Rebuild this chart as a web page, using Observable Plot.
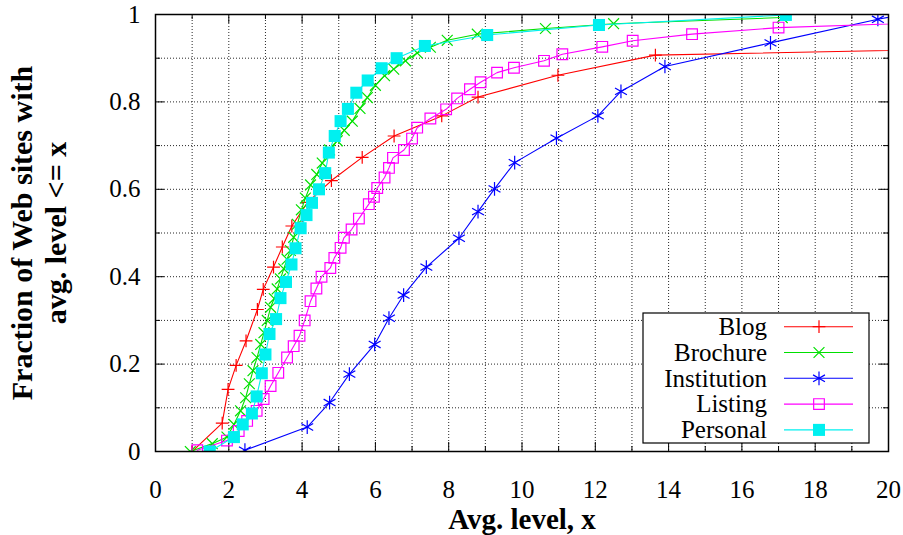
<!DOCTYPE html>
<html><head><meta charset="utf-8">
<script src="https://cdn.jsdelivr.net/npm/d3@7"></script>
<script src="https://cdn.jsdelivr.net/npm/@observablehq/plot@0.6"></script>
<style>body{margin:0;background:#fff}</style>
</head><body><div id="chart"></div>
<script>
const seriesNames = ["Blog", "Brochure", "Institution", "Listing", "Personal"];
const seriesColors = ["#ff0000", "#00e000", "#0000ff", "#ff00ff", "#00f0f0"];
const seriesSymbols = ["plus", "times", "asterisk", "square2", "square"];

const blog = [[1.0,0],[1.82,0.065],[1.98,0.142],[2.2,0.197],[2.47,0.253],[2.78,0.325],[2.94,0.371],[3.22,0.422],[3.46,0.468],[3.72,0.516],[4.15,0.57],[4.8,0.62],[5.64,0.673],[6.51,0.722],[7.81,0.768],[8.8,0.811],[10.98,0.861],[13.64,0.907],[22,0.921]];
const brochure = [[0.95,0.0],[1.55,0.018],[1.95,0.033],[2.14,0.062],[2.32,0.093],[2.46,0.123],[2.56,0.155],[2.66,0.185],[2.77,0.215],[2.87,0.245],[2.96,0.272],[3.05,0.3],[3.14,0.33],[3.24,0.35],[3.32,0.372],[3.41,0.395],[3.5,0.418],[3.59,0.44],[3.68,0.46],[3.77,0.49],[3.87,0.52],[3.98,0.553],[4.09,0.58],[4.23,0.61],[4.4,0.634],[4.55,0.66],[4.75,0.69],[4.96,0.711],[5.15,0.735],[5.37,0.756],[5.58,0.785],[5.78,0.81],[6.0,0.838],[6.25,0.86],[6.5,0.875],[6.82,0.894],[7.14,0.912],[7.5,0.925],[7.96,0.941],[8.78,0.955],[10.64,0.968],[12.5,0.979],[17.1,0.993]];
const institution = [[2.44,0.003],[4.14,0.056],[4.75,0.112],[5.29,0.177],[5.98,0.245],[6.37,0.305],[6.77,0.358],[7.39,0.422],[8.28,0.488],[8.8,0.549],[9.25,0.601],[9.8,0.661],[10.94,0.717],[12.07,0.768],[12.7,0.824],[13.9,0.881],[16.78,0.935],[19.71,0.989],[20.4,1.0]];
const listing = [[1.14,0.003],[1.95,0.025],[2.27,0.047],[2.5,0.07],[2.76,0.093],[2.95,0.12],[3.14,0.15],[3.35,0.18],[3.59,0.215],[3.77,0.241],[3.93,0.265],[4.07,0.3],[4.23,0.344],[4.39,0.373],[4.53,0.4],[4.77,0.42],[4.88,0.443],[5.05,0.466],[5.14,0.489],[5.35,0.508],[5.55,0.533],[5.82,0.566],[5.96,0.583],[6.05,0.603],[6.25,0.627],[6.37,0.649],[6.48,0.672],[6.78,0.69],[7.0,0.716],[7.14,0.741],[7.5,0.762],[7.93,0.783],[8.23,0.808],[8.58,0.829],[8.87,0.845],[9.32,0.867],[9.78,0.878],[10.6,0.894],[11.1,0.909],[12.19,0.926],[13.02,0.94],[14.64,0.955],[17.0,0.97],[22,0.984]];
const personal = [[1.48,0],[2.14,0.033],[2.38,0.062],[2.63,0.087],[2.76,0.126],[2.9,0.179],[3.0,0.222],[3.11,0.269],[3.29,0.303],[3.41,0.351],[3.56,0.388],[3.71,0.428],[3.82,0.465],[3.96,0.511],[4.12,0.541],[4.27,0.569],[4.46,0.6],[4.63,0.637],[4.73,0.684],[4.89,0.722],[5.05,0.756],[5.25,0.784],[5.48,0.821],[5.79,0.849],[6.17,0.877],[6.58,0.9],[7.35,0.928],[9.05,0.953],[12.1,0.976],[17.2,0.999]];

const xMajor = [0, 2, 4, 6, 8, 10, 12, 14, 16, 18, 20];
const xMinor = [1, 3, 5, 7, 9, 11, 13, 15, 17, 19];
const yMajor = [0, 0.2, 0.4, 0.6, 0.8, 1];
const yTickLabels = ["0", "0.2", "0.4", "0.6", "0.8", "1"];
const yMinor = [0.1, 0.3, 0.5, 0.7, 0.9];
const xTitle = "Avg. level, x";
const yTitle = "Fraction of Web sites with\navg. level <= x";

const W = 903, H = 535, ML = 155, MR = 15, MT = 14, MB = 84;
const PW = W - ML - MR, PH = H - MT - MB;
const FONT = "Liberation Serif, Times New Roman, serif";
const symR = {plus: 4.2, times: 5, asterisk: 6.5, square2: 6.8, square: 6.8};

const tables = [blog, brochure, institution, listing, personal].map((arr, i) => arr.map(([x, y]) => ({x, y, s: seriesNames[i]})));

const marks = [];
const gridXs = xMajor.concat(xMinor).filter(d => d > 0 && d < 20);
const gridYs = yMajor.concat(yMinor).filter(d => d > 0 && d < 1);
marks.push(Plot.gridX(gridXs, {stroke: "#000", strokeOpacity: 0.85, strokeDasharray: "1,2"}));
marks.push(Plot.gridY(gridYs, {stroke: "#000", strokeOpacity: 0.85, strokeDasharray: "1,2"}));
// inward ticks on all four sides
marks.push(Plot.tickX(xMajor, {x: d => d, stroke: "#000", strokeWidth: 1, insetTop: PH - 9}));
marks.push(Plot.tickX(xMajor, {x: d => d, stroke: "#000", strokeWidth: 1, insetBottom: PH - 9}));
marks.push(Plot.tickX(xMinor, {x: d => d, stroke: "#000", strokeWidth: 1, insetTop: PH - 5}));
marks.push(Plot.tickX(xMinor, {x: d => d, stroke: "#000", strokeWidth: 1, insetBottom: PH - 5}));
marks.push(Plot.tickY(yMajor, {y: d => d, stroke: "#000", strokeWidth: 1, insetRight: PW - 9}));
marks.push(Plot.tickY(yMajor, {y: d => d, stroke: "#000", strokeWidth: 1, insetLeft: PW - 9}));
marks.push(Plot.tickY(yMinor, {y: d => d, stroke: "#000", strokeWidth: 1, insetRight: PW - 5}));
marks.push(Plot.tickY(yMinor, {y: d => d, stroke: "#000", strokeWidth: 1, insetLeft: PW - 5}));

tables.forEach((t, i) => {
  const sym = seriesSymbols[i];
  const filled = sym === "square";
  marks.push(Plot.line(t, {x: "x", y: "y", stroke: seriesColors[i], strokeWidth: 1.1, clip: true}));
  marks.push(Plot.dot(t, {x: "x", y: "y", symbol: sym, r: symR[sym],
    stroke: filled ? "none" : seriesColors[i], fill: filled ? seriesColors[i] : "none",
    strokeWidth: 1.2, clip: true}));
});

marks.push(Plot.frame({stroke: "#000", strokeWidth: 1.5}));
marks.push(Plot.axisX(xMajor, {tickSize: 0, tickPadding: 29, fontSize: 25, label: null}));
marks.push(Plot.axisY(yMajor, {tickSize: 0, tickPadding: 15, fontSize: 25, label: null,
  tickFormat: d => yTickLabels[yMajor.indexOf(d)]}));
marks.push(Plot.text([xTitle], {text: d => d, frameAnchor: "bottom", lineAnchor: "middle", dy: 68, fontSize: 29, fontWeight: "bold"}));
marks.push(Plot.text([yTitle], {text: d => d, frameAnchor: "left", textAnchor: "middle", lineAnchor: "middle", dx: -117, rotate: -90, fontSize: 30, fontWeight: "bold", lineHeight: 1.13}));

const chart = Plot.plot({
  width: W, height: H,
  marginLeft: ML, marginRight: MR, marginTop: MT, marginBottom: MB,
  x: {domain: [0, 20]},
  y: {domain: [0, 1]},
  style: {fontFamily: FONT, background: "#fff", color: "#000"},
  marks
});

// legend inside the frame (bottom-right)
const svg = d3.select(chart);
const bx2 = ML + PW - 19, by2 = MT + PH - 8;
const bw = 226, bh = 130;
const bx1 = bx2 - bw, by1 = by2 - bh;
const lg = svg.append("g").attr("font-size", 25);
lg.append("rect").attr("x", bx1).attr("y", by1).attr("width", bw).attr("height", bh)
  .attr("fill", "#fff").attr("stroke", "#000").attr("stroke-width", 1.2);
const d3Sym = {plus: d3.symbolPlus, times: d3.symbolTimes, asterisk: d3.symbolAsterisk, square2: d3.symbolSquare2, square: d3.symbolSquare};
seriesNames.forEach((name, i) => {
  const cy = by1 + 13.7 + 25.8 * i;
  lg.append("text").attr("x", bx1 + 124).attr("y", cy).attr("dy", "0.33em")
    .attr("text-anchor", "end").attr("fill", "#000").text(name);
  lg.append("line").attr("x1", bx1 + 141).attr("x2", bx1 + 210).attr("y1", cy).attr("y2", cy)
    .attr("stroke", seriesColors[i]).attr("stroke-width", 1.1);
  const sym = seriesSymbols[i];
  const filled = sym === "square";
  lg.append("path").attr("transform", `translate(${bx1 + 176},${cy})`)
    .attr("d", d3.symbol(d3Sym[sym], Math.PI * symR[sym] * symR[sym])())
    .attr("fill", filled ? seriesColors[i] : "none")
    .attr("stroke", filled ? "none" : seriesColors[i]).attr("stroke-width", 1.2);
});

svg.selectAll("text").style("font-family", FONT);

document.getElementById("chart").appendChild(chart);
</script>
</body></html>
